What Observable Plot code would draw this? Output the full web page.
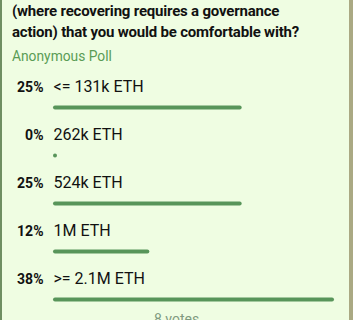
<!DOCTYPE html>
<html>
<head>
<meta charset="utf-8">
<script src="https://cdn.jsdelivr.net/npm/d3@7"></script>
<script src="https://cdn.jsdelivr.net/npm/@observablehq/plot@0.6"></script>
<style>
  html, body { margin: 0; padding: 0; }
  body { width: 353px; height: 320px; overflow: hidden; background: #effde2; position: relative; font-family: Roboto, "Noto Sans", sans-serif; }
  #bl { position: absolute; left: 0; top: 0; bottom: 0; width: 2px; background: #6f8f62; }
  #br { position: absolute; right: 0; top: 0; bottom: 0; width: 4px; background: #aaa983; }
  #title { position: absolute; left: 12px; top: 1px; font-size: 15px; letter-spacing: -0.2px; line-height: 21px; font-weight: 700; color: #111; white-space: nowrap; }
  #sub { position: absolute; left: 12px; top: 48px; font-size: 13.8px; line-height: 16px; color: #5a9c55; }
  #chart { position: absolute; left: 0; top: 62px; }
  #foot { position: absolute; left: 0; width: 353px; top: 310px; text-align: center; font-size: 14px; line-height: 18px; color: #7f9a7f; }
</style>
</head>
<body>
<div id="bl"></div><div id="br"></div>
<div id="title"></div>
<div id="sub"></div>
<div id="chart"></div>
<div id="foot"></div>
<script>
const questionLines = ["(where recovering requires a governance", "action) that you would be comfortable with?"];
const pollType = "Anonymous Poll";
const options = ["<= 131k ETH", "262k ETH", "524k ETH", "1M ETH", ">= 2.1M ETH"];
const votes = [2, 0, 2, 1, 3];
const percents = ["25%", "0%", "25%", "12%", "38%"];
const totalVotes = d3.sum(votes);

const data = options.map((o, i) => ({option: o, votes: votes[i], pct: percents[i]}));

document.getElementById("title").innerHTML = questionLines.join("<br>");
document.getElementById("sub").textContent = pollType;
document.getElementById("foot").textContent = `${totalVotes} votes`;

const plot = Plot.plot({
  width: 353,
  height: 248,
  margin: 0,
  style: {background: "transparent", fontFamily: "Roboto, 'Noto Sans', sans-serif"},
  x: {domain: [0, d3.max(votes)], range: [55, 332], axis: null},
  y: {type: "point", domain: options, range: [45, 237], padding: 0, axis: null},
  marks: [
    Plot.ruleY(data, {y: "option", x1: 0, x2: "votes", stroke: "#58955a", strokeWidth: 4, strokeLinecap: "round"}),
    Plot.text(data, {y: "option", x: () => 0, text: "option", dx: -2, dy: -16, textAnchor: "start", lineAnchor: "bottom", fontSize: 16, fill: "#111"}),
    Plot.text(data, {y: "option", x: () => 0, text: "pct", dx: -12, dy: -16, textAnchor: "end", lineAnchor: "bottom", fontSize: 14, fontWeight: "bold", fill: "#111"})
  ]
});
document.getElementById("chart").appendChild(plot);
</script>
</body>
</html>
